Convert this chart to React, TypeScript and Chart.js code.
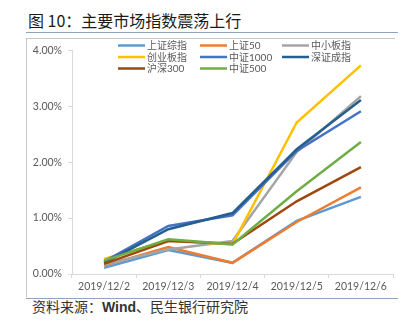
import React, { useEffect, useRef } from "react";
import { Chart, registerables } from "chart.js";

Chart.register(...registerables);

const categories = ["2019/12/2", "2019/12/3", "2019/12/4", "2019/12/5", "2019/12/6"];
const seriesNames = ["上证综指", "上证50", "中小板指", "创业板指", "中证1000", "深证成指", "沪深300", "中证500"];
const shComposite = [0.11, 0.43, 0.2, 0.95, 1.38];
const sh50 = [0.15, 0.48, 0.2, 0.93, 1.55];
const smeBoard = [0.17, 0.44, 0.59, 2.18, 3.18];
const chinext = [0.27, 0.6, 0.53, 2.71, 3.73];
const csi1000 = [0.22, 0.86, 1.05, 2.2, 2.91];
const szComponent = [0.2, 0.8, 1.09, 2.23, 3.11];
const csi300 = [0.18, 0.59, 0.54, 1.3, 1.91];
const csi500 = [0.24, 0.62, 0.53, 1.48, 2.36];
const seriesValues = [shComposite, sh50, smeBoard, chinext, csi1000, szComponent, csi300, csi500];
const seriesColors = ["#5B9BD5", "#ED7D31", "#A5A5A5", "#FFC000", "#4472C4", "#255E91", "#9E480E", "#70AD47"];
const yTicks = [0, 1, 2, 3, 4];

const legendPlugin = {
  id: "gridLegend",
  afterDraw(chart: any) {
    const ctx = chart.ctx;
    const colX = [91, 173, 255];
    const rowY = [7.5, 19, 30.5];
    ctx.save();
    ctx.font = "10px Lato, 'Noto Sans CJK SC', sans-serif";
    ctx.textBaseline = "middle";
    chart.data.datasets.forEach((ds: any, i: number) => {
      const col = i % 3;
      const row = Math.floor(i / 3);
      const x = colX[col];
      const y = rowY[row];
      ctx.strokeStyle = ds.borderColor;
      ctx.lineWidth = 2.5;
      ctx.beginPath();
      ctx.moveTo(x, y);
      ctx.lineTo(x + 27, y);
      ctx.stroke();
      ctx.fillStyle = "#595959";
      ctx.fillText(ds.label, x + 29, y + 0.5);
    });
    ctx.restore();
  },
};

export default function App() {
  const ref = useRef<HTMLCanvasElement>(null);
  useEffect(() => {
    if (!ref.current) return;
    const n = seriesNames.length;
    const chart = new Chart(ref.current, {
      type: "line",
      data: {
        labels: categories,
        datasets: seriesNames.map((name, i) => ({
          label: name,
          data: seriesValues[i],
          borderColor: seriesColors[i],
          backgroundColor: seriesColors[i],
          borderWidth: 2.5,
          pointRadius: 0,
          tension: 0,
          fill: false,
          order: n - 1 - i,
        })),
      },
      options: {
        animation: false,
        responsive: true,
        maintainAspectRatio: false,
        layout: { padding: { top: 10, right: 4, left: 0, bottom: 0 } },
        plugins: { legend: { display: false }, tooltip: { enabled: false } },
        scales: {
          x: {
            offset: true,
            grid: { offset: true, drawOnChartArea: false, tickLength: 4, color: "#d9d9d9" },
            border: { color: "#d9d9d9" },
            ticks: { color: "#595959", font: { family: "Lato", size: 10.5 }, maxRotation: 0, padding: 2 },
            afterFit: (s: any) => { s.height = 22; },
          },
          y: {
            min: yTicks[0],
            max: yTicks[yTicks.length - 1],
            grid: { drawOnChartArea: false, tickLength: 4, color: "#d9d9d9" },
            border: { color: "#d9d9d9" },
            ticks: {
              stepSize: 1,
              color: "#595959",
              font: { family: "Lato", size: 10.5 },
              padding: 6,
              callback: (v: any) => Number(v).toFixed(2) + "%",
            },
            afterFit: (s: any) => { s.width = 45; },
          },
        },
      },
      plugins: [legendPlugin],
    });
    return () => chart.destroy();
  }, []);

  return (
    <div style={{ position: "absolute", left: 0, top: 0, width: 411, height: 323, background: "#fff", overflow: "hidden" }}>
      <div style={{ position: "absolute", left: 28, top: 10, fontFamily: "'Noto Sans CJK SC', sans-serif", fontSize: 16, lineHeight: "20px", color: "#1a1a1a", whiteSpace: "nowrap" }}>
        图 10：主要市场指数震荡上行
      </div>
      <div style={{ position: "absolute", left: 26, top: 32, width: 372, height: 1, background: "#8ea4c2" }} />
      <div style={{ position: "absolute", left: 26, top: 38, width: 369, height: 1, background: "#c8c8c8" }} />
      <div style={{ position: "absolute", left: 26, top: 38, width: 1, height: 259, background: "#c8c8c8" }} />
      <div style={{ position: "absolute", left: 27, top: 38, width: 370, height: 258 }}>
        <canvas ref={ref} />
      </div>
      <div style={{ position: "absolute", left: 26, top: 298, width: 372, height: 1, background: "#8ea4c2" }} />
      <div style={{ position: "absolute", left: 32, top: 297, fontFamily: "'Noto Sans CJK SC', sans-serif", fontSize: 14, lineHeight: "18px", color: "#333", whiteSpace: "nowrap" }}>
        资料来源：<span style={{ fontFamily: "Arial, 'Liberation Sans', sans-serif", fontWeight: "bold" }}>Wind</span>、民生银行研究院
      </div>
    </div>
  );
}
